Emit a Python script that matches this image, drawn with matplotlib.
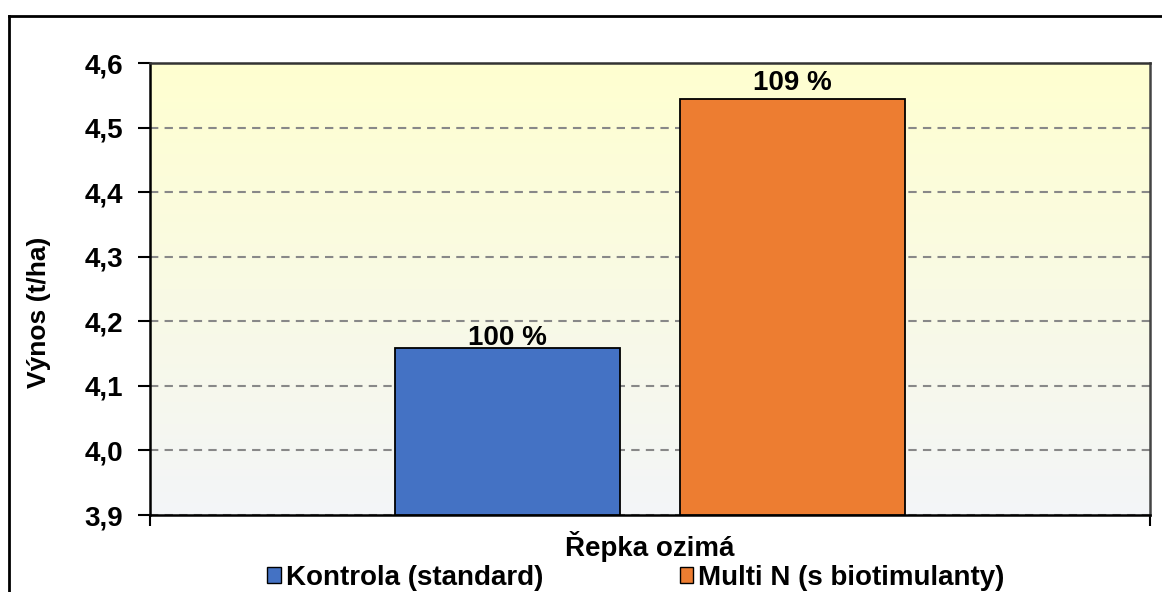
import matplotlib
matplotlib.use("Agg")
import matplotlib.pyplot as plt
import numpy as np
from matplotlib.colors import LinearSegmentedColormap
from matplotlib.patches import Patch

plt.rcParams['font.family'] = ['Liberation Sans', 'DejaVu Sans']
plt.rcParams['font.weight'] = 'bold'

category = "Řepka ozimá"
series = ["Kontrola (standard)", "Multi N (s biotimulanty)"]
values = [4.159, 4.545]
labels = ["100 %", "109 %"]
colors = ["#4472C4", "#ED7D31"]
yticks = [3.9, 4.0, 4.1, 4.2, 4.3, 4.4, 4.5, 4.6]
ytick_labels = ["3,9", "4,0", "4,1", "4,2", "4,3", "4,4", "4,5", "4,6"]
ylabel = "Výnos (t/ha)"

W, H = 1162, 592
fig = plt.figure(figsize=(W / 100, H / 100), dpi=100)
ax = fig.add_axes([150 / W, 1 - 515 / H, 1000 / W, (515 - 63) / H])

# outer chart border (cut off at right and bottom)
fig.add_artist(plt.Line2D([9 / W, 9 / W], [0, 1 - 16 / H], color='black', lw=2, transform=fig.transFigure))
fig.add_artist(plt.Line2D([9 / W, 1], [1 - 16 / H, 1 - 16 / H], color='black', lw=2, transform=fig.transFigure))

ax.set_xlim(0, 1)
ax.set_ylim(yticks[0], yticks[-1])

# gradient background
cmap = LinearSegmentedColormap.from_list("bg", ["#F3F5F8", "#FFFFD0"])
grad = np.linspace(0, 1, 256).reshape(-1, 1)
ax.imshow(grad, extent=[0, 1, yticks[0], yticks[-1]], origin='lower', aspect='auto', cmap=cmap, zorder=0)

bw = 0.225
gap = 0.06
centers = [0.5 - gap / 2 - bw / 2, 0.5 + gap / 2 + bw / 2]
label_offsets_px = [3, 9]
for i in range(2):
    ax.bar(centers[i], values[i] - yticks[0], bottom=yticks[0], width=bw, color=colors[i],
           edgecolor='black', linewidth=1.3, label=series[i], zorder=3)
    ax.annotate(labels[i], (centers[i], values[i]), xytext=(0, label_offsets_px[i] * 0.72),
                textcoords='offset points', ha='center', va='baseline',
                fontsize=20, fontweight='bold', zorder=4)

ax.set_yticks(yticks)
ax.set_yticklabels(ytick_labels, fontsize=20, fontweight='bold')
ax.yaxis.grid(True, linestyle=(0, (4, 3)), color='#888888', linewidth=1.5, zorder=1)
ax.set_axisbelow(True)
ax.set_xticks([0, 1])
ax.set_xticklabels(["", ""])
ax.tick_params(axis='x', direction='out', length=8, width=1.5)
ax.tick_params(axis='y', direction='out', length=9, width=1.5, pad=10.5)
for s in ax.spines.values():
    s.set_linewidth(1.8)
ax.spines['right'].set_color('#444444')
ax.spines['top'].set_color('#333333')

fig.text(39 / W, 1 - 312 / H, ylabel, rotation=90, ha='center', va='center',
         fontsize=19, fontweight='bold')
fig.text(650 / W, 1 - 546 / H, category, ha='center', va='center', fontsize=20, fontweight='bold')

handles = [Patch(facecolor=colors[i], edgecolor='black', linewidth=1.0) for i in range(2)]
leg = fig.legend(handles, series, loc='center', bbox_to_anchor=(636 / W, 1 - 578 / H), ncol=2,
                 frameon=False, prop={'weight': 'bold', 'size': 20},
                 handlelength=0.48, handleheight=0.48, handletextpad=0.2,
                 columnspacing=4.9, borderaxespad=0, borderpad=0)

fig.savefig("out.png", dpi=100)
